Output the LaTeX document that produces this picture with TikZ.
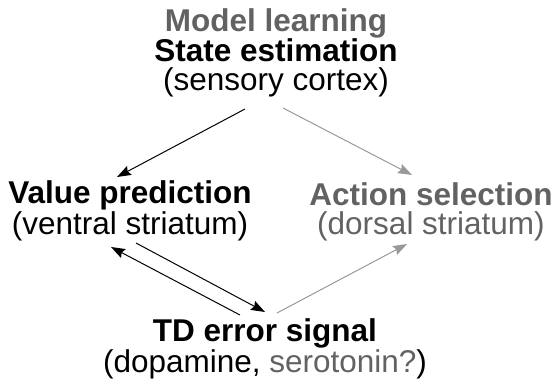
\documentclass[tikz,border=0pt]{standalone}
\usepackage{fontspec}
\setmainfont{Liberation Sans}
\usetikzlibrary{arrows.meta}
\definecolor{txtgray}{HTML}{626262}
\definecolor{arrgray}{HTML}{999999}
\begin{document}
\begin{tikzpicture}[x=1pt,y=-1pt,
  blk/.style={anchor=base, inner sep=0pt, align=center, font=\fontsize{31.5}{28.5}\selectfont},
  conn/.style={line width=1pt, -{Stealth[length=14pt,width=10pt,inset=2pt]}},
  gconn/.style={conn, draw=arrgray}]
\useasboundingbox (0,0) rectangle (555,383);
\node[blk] (top) at (276,90) {\textcolor{txtgray}{\bfseries Model learning}\\ \textbf{State estimation}\\ (sensory cortex)};
\node[blk] (value) at (130,234) {\textbf{Value prediction}\\ (ventral striatum)};
\node[blk, text=txtgray] (action) at (431,234) {\textbf{Action selection}\\ (dorsal striatum)};
\node[blk] (td) at (265,372) {\textbf{TD error signal}\\ (dopamine, \textcolor{txtgray}{serotonin?})};
\coordinate (a1s) at (245,109); \coordinate (a1e) at (117,177);
\coordinate (a2s) at (283,108); \coordinate (a2e) at (412,175);
\coordinate (a3s) at (240,315); \coordinate (a3e) at (111,247);
\coordinate (a4s) at (136,243); \coordinate (a4e) at (265,312);
\coordinate (a5s) at (277,313); \coordinate (a5e) at (407,244);
\draw[conn] (a1s) -- (a1e);
\draw[gconn] (a2s) -- (a2e);
\draw[conn] (a3s) -- (a3e);
\draw[conn] (a4s) -- (a4e);
\draw[gconn] (a5s) -- (a5e);
\end{tikzpicture}
\end{document}
